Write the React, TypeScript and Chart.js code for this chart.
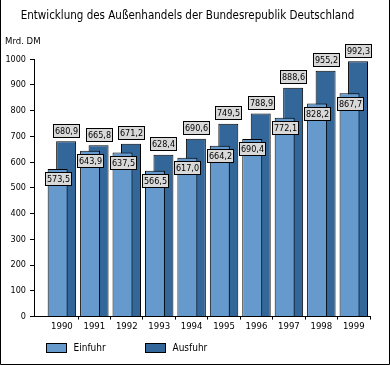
import React, { useEffect, useRef } from 'react';
import { Chart, registerables } from 'chart.js';

Chart.register(...registerables);

const TITLE = 'Entwicklung des Außenhandels der Bundesrepublik Deutschland';
const UNIT = 'Mrd. DM';
const YEARS = ['1990', '1991', '1992', '1993', '1994', '1995', '1996', '1997', '1998', '1999'];
const EINFUHR = [573.5, 643.9, 637.5, 566.5, 617.0, 664.2, 690.4, 772.1, 828.2, 867.7];
const AUSFUHR = [680.9, 665.8, 671.2, 628.4, 690.6, 749.5, 788.9, 888.6, 955.2, 992.3];
const Y_TICKS = [0, 100, 200, 300, 400, 500, 600, 700, 800, 900, 1000];
const SERIES_NAMES = ['Einfuhr', 'Ausfuhr'];
const SERIES_COLORS = ['#6699CC', '#336699'];

const FONT = "'DejaVu Sans Condensed', 'Liberation Sans Narrow', sans-serif";

const fmt = (v: number) => v.toFixed(1).replace('.', ',');

const valueBoxes = {
  id: 'valueBoxes',
  afterDatasetsDraw(chart: any) {
    const ctx = chart.ctx;
    ctx.save();
    ctx.font = `9px ${FONT}`;
    ctx.textAlign = 'center';
    ctx.textBaseline = 'middle';
    chart.data.datasets.forEach((ds: any, di: number) => {
      const meta = chart.getDatasetMeta(di);
      meta.data.forEach((el: any, i: number) => {
        const v = ds.data[i].y;
        const text = fmt(v);
        const w = Math.round(ctx.measureText(text).width) + 3;
        const h = 13;
        const cy = di === 0 ? el.y + 10 : el.y - 11;
        const x = Math.round(el.x - w / 2) + 0.5;
        const y = Math.round(cy - h / 2) + 0.5;
        ctx.fillStyle = '#D9D9D9';
        ctx.fillRect(x, y, w, h);
        ctx.strokeStyle = '#000';
        ctx.lineWidth = 1;
        ctx.strokeRect(x, y, w, h);
        ctx.fillStyle = '#000';
        ctx.fillText(text, x + w / 2, y + h / 2 + 0.5);
      });
    });
    ctx.restore();
  },
};

const bottomLegend = {
  id: 'bottomLegend',
  afterDraw(chart: any) {
    const ctx = chart.ctx;
    const area = chart.chartArea;
    ctx.save();
    ctx.font = `10px ${FONT}`;
    ctx.textAlign = 'left';
    ctx.textBaseline = 'middle';
    chart.data.datasets.forEach((ds: any, i: number) => {
      const x = Math.round(area.left + 12 + i * 99) + 0.5;
      const y = Math.round(area.bottom + 26) + 0.5;
      ctx.fillStyle = ds.backgroundColor;
      ctx.fillRect(x, y, 20, 9);
      ctx.strokeStyle = '#000';
      ctx.lineWidth = 1;
      ctx.strokeRect(x, y, 20, 9);
      ctx.fillStyle = '#000';
      ctx.fillText(ds.label, x + 27, y + 5);
    });
    ctx.restore();
  },
};

const frame = {
  id: 'frame',
  afterDraw(chart: any) {
    const ctx = chart.ctx;
    const w = chart.width;
    const h = chart.height;
    ctx.save();
    ctx.strokeStyle = '#000';
    ctx.lineWidth = 1;
    ctx.beginPath();
    ctx.moveTo(0.5, 0);
    ctx.lineTo(0.5, h - 0.5);
    ctx.lineTo(w - 0.5, h - 0.5);
    ctx.lineTo(w - 0.5, 0);
    ctx.stroke();
    ctx.restore();
  },
};

export default function App() {
  const ref = useRef<HTMLCanvasElement | null>(null);

  useEffect(() => {
    if (!ref.current) return;
    const chart = new Chart(ref.current, {
      type: 'bar',
      data: {
        datasets: [
          {
            label: SERIES_NAMES[0],
            data: EINFUHR.map((v, i) => ({ x: i, y: v })),
            backgroundColor: SERIES_COLORS[0],
            borderColor: '#000',
            borderWidth: 1,
            categoryPercentage: 0.524,
            barPercentage: 2.35,
          },
          {
            label: SERIES_NAMES[1],
            data: AUSFUHR.map((v, i) => ({ x: i, y: v })),
            backgroundColor: SERIES_COLORS[1],
            borderColor: '#000',
            borderWidth: 1,
            categoryPercentage: 0.524,
            barPercentage: 2.35,
          },
        ],
      } as any,
      options: {
        responsive: false,
        animation: false,
        devicePixelRatio: 1,
        layout: { padding: { left: 5, right: 20, top: 0, bottom: 32 } },
        plugins: {
          legend: { display: false },
          tooltip: { enabled: false },
          title: {
            display: true,
            text: TITLE,
            color: '#000',
            font: { family: FONT, size: 11.5, weight: 'normal' },
            padding: { top: 9, bottom: 5 },
          },
          subtitle: {
            display: true,
            text: UNIT,
            align: 'start',
            color: '#000',
            font: { family: FONT, size: 9.5, weight: 'normal' },
            padding: { top: 8, bottom: 12 },
          },
        },
        scales: {
          x: {
            type: 'linear',
            min: -0.86,
            max: 9.5,
            offset: false,
            afterBuildTicks: (s: any) => {
              s.ticks = YEARS.map((_, i) => ({ value: i }));
            },
            ticks: {
              autoSkip: false,
              maxRotation: 0,
              color: '#000',
              padding: 1,
              font: { family: FONT, size: 9.5 },
              callback: (_v: any, i: number) => YEARS[i],
            },
            grid: {
              offset: true,
              drawOnChartArea: false,
              drawTicks: true,
              tickLength: 3,
              color: '#000',
              tickColor: (c: any) => (c.index === 0 ? 'rgba(0,0,0,0)' : '#000'),
            },
            border: { display: true, color: '#000', width: 1 },
          },
          y: {
            min: 0,
            max: 1000,
            afterBuildTicks: (s: any) => {
              s.ticks = Y_TICKS.map((v) => ({ value: v }));
            },
            afterFit: (s: any) => {
              s.width = 29;
            },
            ticks: {
              color: '#000',
              padding: 4,
              font: { family: FONT, size: 9 },
              callback: (v: any) => String(v),
            },
            grid: {
              drawOnChartArea: false,
              drawTicks: true,
              tickLength: 4,
              color: '#000',
            },
            border: { display: true, color: '#000', width: 1 },
          },
        },
      } as any,
      plugins: [valueBoxes, bottomLegend, frame],
    });
    return () => chart.destroy();
  }, []);

  return (
    <div style={{ position: 'absolute', left: 0, top: 0, width: 390, height: 365, background: '#fff' }}>
      <canvas ref={ref} width={390} height={365} style={{ display: 'block' }} />
    </div>
  );
}
